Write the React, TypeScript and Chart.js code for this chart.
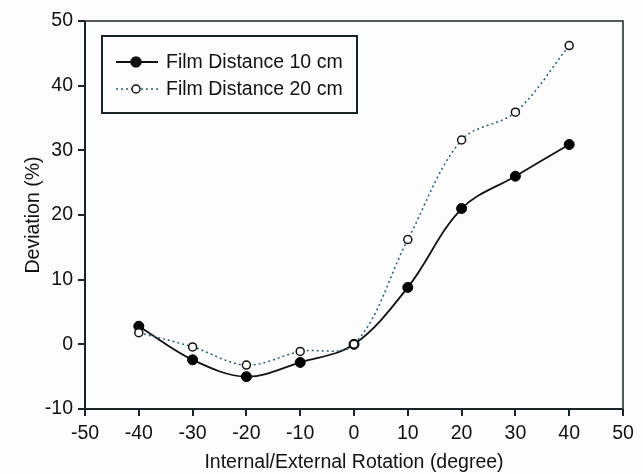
import React, { useEffect, useRef } from "react";
import { Chart, registerables } from "chart.js";

Chart.register(...registerables);

const rotations = [-40, -30, -20, -10, 0, 10, 20, 30, 40];
const dist10 = [2.8, -2.4, -5.0, -2.8, 0, 8.8, 21, 26, 30.9];
const dist20 = [1.8, -0.4, -3.2, -1.1, 0, 16.2, 31.6, 35.9, 46.2];
const seriesNames = ["Film Distance 10 cm", "Film Distance 20 cm"];
const xTitle = "Internal/External Rotation (degree)";
const yTitle = "Deviation (%)";

const FONT = "'Liberation Sans', Arial, sans-serif";
const FS = 19.5;
const AXIS = "#1c2327";
const DOT = "#2b5d6b";

export default function App() {
  const ref = useRef<HTMLCanvasElement | null>(null);
  useEffect(() => {
    if (!ref.current) return;
    const bg = {
      id: "bg",
      beforeDraw(c: any) {
        const ctx = c.ctx;
        ctx.save();
        ctx.fillStyle = "#fcfcfc";
        ctx.fillRect(0, 0, c.width, c.height);
        ctx.restore();
      },
    };
    const frame = {
      id: "frame",
      afterDraw(c: any) {
        const { ctx, chartArea: a } = c;
        ctx.save();
        ctx.strokeStyle = AXIS;
        ctx.lineWidth = 1.5;
        ctx.beginPath();
        ctx.moveTo(a.left, a.top);
        ctx.lineTo(a.right, a.top);
        ctx.lineTo(a.right, a.bottom);
        ctx.stroke();
        ctx.lineWidth = 2;
        ctx.beginPath();
        ctx.moveTo(a.left, a.top);
        ctx.lineTo(a.left, a.bottom);
        ctx.lineTo(a.right, a.bottom);
        ctx.stroke();
        // legend box
        const bx = a.left + 17, by = a.top + 15, bw = 255, bh = 77;
        ctx.lineWidth = 2;
        ctx.strokeRect(bx, by, bw, bh);
        ctx.font = FS + "px " + FONT;
        ctx.textBaseline = "middle";
        ctx.fillStyle = "#111";
        const rows = [
          { y: by + 26, dash: [] as number[], color: "#111", fill: "#111", name: seriesNames[0] },
          { y: by + 53, dash: [2, 3], color: DOT, fill: "#fff", name: seriesNames[1] },
        ];
        rows.forEach((r) => {
          ctx.save();
          ctx.strokeStyle = r.color;
          ctx.lineWidth = r.dash.length ? 1.5 : 2;
          ctx.setLineDash(r.dash);
          ctx.beginPath();
          ctx.moveTo(bx + 14, r.y);
          ctx.lineTo(bx + 56, r.y);
          ctx.stroke();
          ctx.setLineDash([]);
          ctx.beginPath();
          ctx.arc(bx + 34, r.y, r.dash.length ? 4 : 5, 0, Math.PI * 2);
          ctx.fillStyle = r.fill;
          ctx.fill();
          ctx.strokeStyle = "#111";
          ctx.lineWidth = 1.5;
          ctx.stroke();
          ctx.restore();
          ctx.fillStyle = "#111";
          ctx.fillText(r.name, bx + 64, r.y + 1);
        });
        ctx.restore();
      },
    };
    const chart = new Chart(ref.current, {
      type: "line",
      data: {
        datasets: [
          {
            label: seriesNames[1],
            data: rotations.map((x, i) => ({ x, y: dist20[i] })),
            borderColor: DOT,
            borderWidth: 1.5,
            borderDash: [2, 3],
            tension: 0.35,
            pointRadius: 4,
            pointBackgroundColor: "#ffffff",
            pointBorderColor: "#111",
            pointBorderWidth: 1.5,
          },
          {
            label: seriesNames[0],
            data: rotations.map((x, i) => ({ x, y: dist10[i] })),
            borderColor: "#111",
            borderWidth: 1.8,
            tension: 0.35,
            pointRadius: 5,
            pointBackgroundColor: "#000",
            pointBorderColor: "#000",
            pointBorderWidth: 1,
          },
        ] as any,
      },
      plugins: [bg, frame],
      options: {
        animation: false,
        responsive: false,
        maintainAspectRatio: false,
        layout: { padding: { top: 21, right: 20, left: 0, bottom: 0 } },
        plugins: { legend: { display: false }, tooltip: { enabled: false } },
        scales: {
          x: {
            type: "linear",
            min: -50,
            max: 50,
            afterFit: (s: any) => { s.height = 65; },
            ticks: { stepSize: 10, color: "#111", font: { size: FS, family: FONT }, padding: 6 },
            grid: { drawOnChartArea: false, drawTicks: true, tickLength: 7, color: AXIS, lineWidth: 2 },
            border: { display: false },
            title: { display: true, text: xTitle, color: "#111", font: { size: FS, family: FONT }, padding: { top: 0, bottom: 0 } },
          },
          y: {
            type: "linear",
            min: -10,
            max: 50,
            afterFit: (s: any) => { s.width = 85; },
            ticks: { stepSize: 10, color: "#111", font: { size: FS, family: FONT }, padding: 5 },
            grid: { drawOnChartArea: false, drawTicks: true, tickLength: 7, color: AXIS, lineWidth: 2 },
            border: { display: false },
            title: { display: true, text: yTitle, color: "#111", font: { size: FS, family: FONT }, padding: { top: 22, bottom: 0 } },
          },
        },
      } as any,
    });
    return () => chart.destroy();
  }, []);
  return (
    <div style={{ position: "fixed", left: 0, top: 0, width: 643, height: 474 }}>
      <canvas ref={ref} width={643} height={474} style={{ width: 643, height: 474 }} />
    </div>
  );
}
